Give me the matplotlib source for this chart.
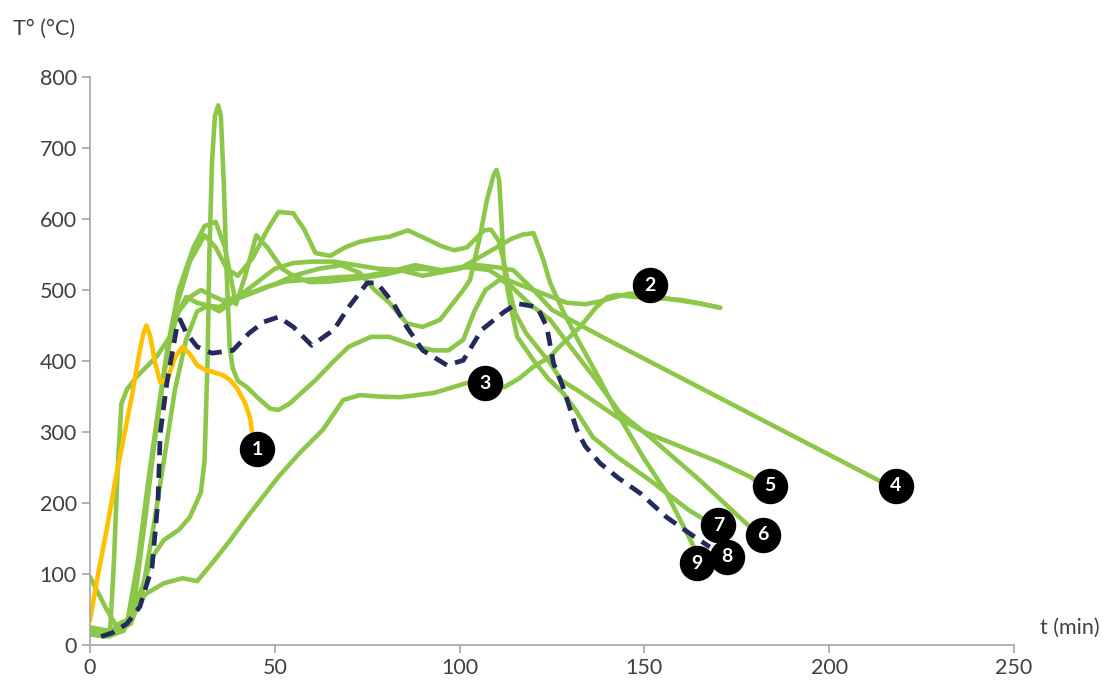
import numpy as np
import matplotlib
matplotlib.use("Agg")
import matplotlib.pyplot as plt

plt.rcParams["font.family"] = ["Lato", "DejaVu Sans"]

C_GREEN = "#8dc74a"; C_YEL = "#ffc000"; C_NAVY = "#232a5c"; C_AX = "#a6a6a6"

# curve 1 (yellow)
t1 = [0, 2.2, 4.5, 6.8, 9, 11.3, 13.5, 14.5, 15.3, 16.3, 17.5, 19, 21, 23, 25, 27, 29, 31, 33, 36, 38, 40, 42, 43.3, 44]
T1 = [35, 100, 162, 230, 289, 350, 415, 440, 450, 435, 400, 370, 375, 405, 420, 410, 394, 388, 385, 380, 373, 360, 340, 320, 295]
# curve 2
t2 = [0, 4, 5.5, 6.5, 7.5, 8.5, 10, 13, 18, 21.6, 24, 26, 29, 32, 35, 38, 41, 44, 48, 53, 60, 67, 75, 82, 88, 95,
      102, 108, 111, 115, 120, 125, 129, 134, 138, 142, 146, 150, 155, 160, 165, 170.5]
T2 = [15, 12, 25, 120, 250, 340, 360, 380, 406, 434, 470, 490, 482, 478, 476, 485, 492, 497, 505, 512, 515, 518, 520, 527, 535, 528,
      532, 528, 518, 510, 500, 490, 482, 480, 484, 490, 495, 492, 488, 486, 481, 475]
# curve 3
t3 = [0, 4.5, 7, 10, 12, 15.4, 20, 25, 29, 33, 38, 42.5, 51, 57, 63, 68.5, 73, 78, 84, 93, 102, 107, 112, 116, 120,
      124.5, 127, 132.6, 137, 140, 142.6, 148, 156, 165, 170.5]
T3 = [96, 50, 28, 35, 55, 73, 87, 94, 90, 115, 148, 180, 237, 272, 303, 345, 352, 350, 349, 355, 369, 370, 363, 375, 392,
      406, 420, 448, 476, 490, 493, 490, 488, 481, 475]
# curve 4
t4 = [0, 5, 9, 12, 15, 18, 21, 24, 28, 31, 34, 36.5, 39.5, 42, 45, 48, 52, 55, 59.5, 65, 70, 75, 80, 85, 90, 95, 100,
      105, 110, 114.5, 120, 125, 140, 160, 180, 200, 217]
T4 = [20, 15, 20, 60, 180, 310, 420, 500, 560, 590, 596, 560, 480, 520, 577, 560, 530, 520, 511, 512, 515, 518, 522, 528, 530, 527, 532,
      535, 532, 528, 500, 472, 430, 376, 322, 268, 222]
# curve 5
t5 = [0, 6, 11, 14, 17, 20, 23, 27, 31, 34, 37, 40, 44, 48, 51, 55, 58, 61, 65, 69, 73, 77, 81, 86, 91, 95, 98.5, 102,
      106.6, 108.5, 110.5, 112, 113.5, 115, 118, 124.5, 127.5, 133, 142.6, 150, 160, 170, 178.6, 181]
T5 = [15, 15, 40, 150, 270, 380, 470, 540, 577, 560, 530, 520, 545, 585, 610, 608, 585, 552, 548, 560, 568, 572, 575, 584, 572, 562, 556, 560,
      584, 585, 570, 540, 500, 468, 439, 397, 373, 355, 321, 300, 279, 258, 237, 228]
# curve 6
t6 = [0, 5, 9, 12, 14, 17, 20, 24, 27, 30, 31, 31.8, 32.3, 33, 33.8, 34.7, 35.4, 36.2, 37, 37.8, 38.6, 40, 42.5, 45,
      48.7, 51, 54, 61, 66, 70, 76, 81, 88.5, 93, 97, 101, 104, 107, 111, 114, 119, 124.5, 130, 137, 143.4, 151.5, 165,
      178.6, 179]
T6 = [15, 12, 20, 50, 80, 125, 148, 162, 180, 215, 260, 400, 550, 680, 745, 760, 745, 650, 520, 420, 390, 372, 363, 350,
      333, 331, 340, 373, 400, 420, 434, 434, 420, 415, 415, 430, 470, 500, 515, 505, 480, 458, 420, 373, 327, 293, 232,
      166, 160]
# curve 7
t7 = [0, 7, 11, 14, 17, 20, 23, 26, 29, 32, 35, 40, 46, 50, 55, 62, 68, 73, 77, 81, 85.7, 90, 94.7, 98, 101, 102.8,
      105.5, 107.4, 109.2, 110, 110.7, 111.3, 112, 113, 114, 115.6, 120, 124, 128, 131.5, 136, 142.6, 151.5, 162, 167.7]
T7 = [20, 18, 30, 70, 160, 260, 360, 430, 470, 478, 470, 488, 500, 508, 520, 530, 535, 524, 500, 482, 453, 448, 458, 480, 500, 514,
      575, 627, 662, 669, 655, 600, 532, 500, 472, 434, 401, 375, 355, 330, 293, 265, 232, 190, 172]
# curve 8 (dashed)
t8 = [3, 6, 10, 13.5, 16.8, 18.4, 19, 20.8, 23.5, 24.4, 26, 29, 33, 38.7, 43, 47, 51, 55, 60, 66, 70, 75, 77.6, 82,
      85.7, 90, 96.6, 101, 106, 112, 115.5, 121, 123.6, 125.4, 128, 131.7, 134, 138, 143, 148.8, 156, 162, 167.7]
T8 = [12, 17, 30, 54, 110, 204, 298, 369, 448, 458, 440, 420, 411, 415, 439, 455, 462, 448, 422, 444, 476, 510, 510, 482,
      448, 415, 394, 401, 444, 469, 481, 476, 448, 397, 363, 303, 280, 256, 235, 214, 180, 158, 138]
# curve 9
t9 = [0, 5, 10, 13, 16, 19, 21.5, 24, 27, 30, 33, 36, 40, 45, 50, 55, 60, 66, 72, 78, 84, 90, 95, 100, 105, 110, 114,
      117, 120, 122.5, 124.5, 128, 132, 138, 142.6, 149.6, 156, 163.5]
T9 = [25, 20, 30, 120, 240, 350, 430, 470, 490, 500, 492, 485, 490, 510, 530, 538, 540, 540, 535, 530, 528, 520, 525, 530, 545, 560, 572,
      578, 580, 545, 510, 470, 430, 373, 327, 265, 214, 137]

# label badges
lab_txt = ["1", "2", "3", "4", "5", "6", "7", "8", "9"]
lab_t = [45.2, 151.5, 106.9, 218, 184, 182, 170, 172.3, 164.2]
lab_T = [276, 507, 369, 224, 224, 155, 169, 124, 115]

fig = plt.figure(figsize=(11.16, 6.91), dpi=100)
ax = fig.add_axes([90/1116, 46/691, 924/1116, 568/691])

kw = dict(color=C_GREEN, lw=3.3, solid_joinstyle="round", solid_capstyle="round")
for tt, TT in [(t3, T3), (t4, T4), (t5, T5), (t9, T9)]:
    ax.plot(tt, TT, **kw)
ax.plot(t8, T8, color=C_NAVY, lw=3.4, ls=(0, (3.0, 1.8)), zorder=3)
for tt, TT in [(t2, T2), (t6, T6), (t7, T7)]:
    ax.plot(tt, TT, **kw)
ax.plot(t1, T1, color=C_YEL, lw=3.3, solid_joinstyle="round")

for s, x, y in zip(lab_txt, lab_t, lab_T):
    ax.plot(x, y, "o", ms=24.5, color="black", zorder=6)
    ax.text(x, y, s, color="white", fontsize=14, fontweight="bold",
            ha="center", va="center", zorder=7)

ax.set_xlim(0, 250); ax.set_ylim(0, 800)
ax.set_xticks(np.arange(0, 251, 50)); ax.set_yticks(np.arange(0, 801, 100))
for sp in ["top", "right"]:
    ax.spines[sp].set_visible(False)
for sp in ["left", "bottom"]:
    ax.spines[sp].set_color(C_AX); ax.spines[sp].set_linewidth(1.2)
ax.tick_params(colors=C_AX, labelcolor="#404040", labelsize=15.5, length=6, width=1.2)
ax.text(-0.083, 1.085, "T° (°C)", transform=ax.transAxes, fontsize=15.5, color="#404040", va="center")
ax.text(1.028, 0.03, "t (min)", transform=ax.transAxes, fontsize=15.5, color="#404040", va="center")

fig.savefig("out.png", dpi=100)
